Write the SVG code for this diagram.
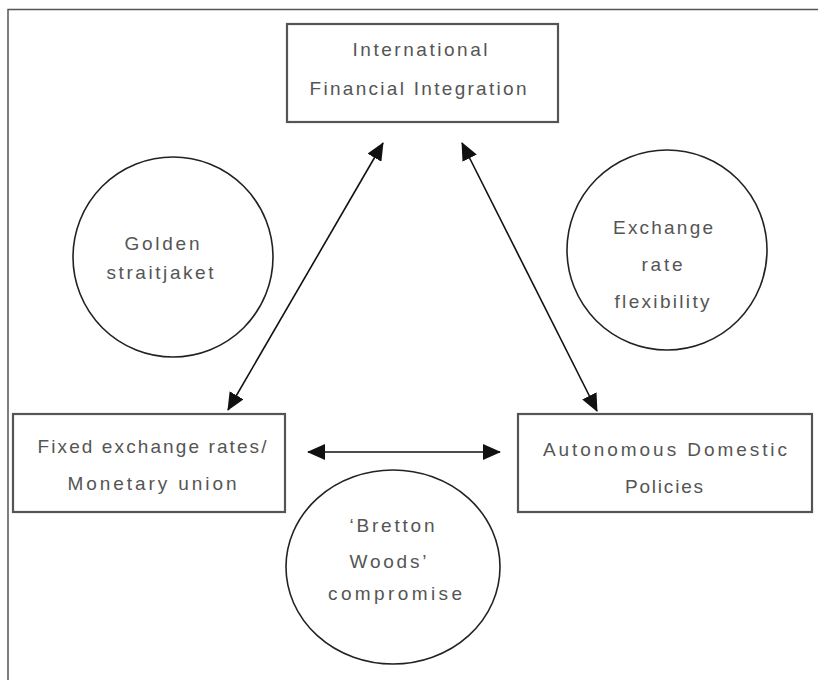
<svg xmlns="http://www.w3.org/2000/svg" width="818" height="680" viewBox="0 0 818 680">
<style>
.frame{stroke:#555;stroke-width:1.5;fill:none}
.box{fill:#fff;stroke:#555;stroke-width:2.2}
.circ{fill:#fff;stroke:#222;stroke-width:1.6}
.lbl{font-family:"Liberation Sans",Arial,sans-serif;font-size:19px;fill:#555;text-anchor:middle}
.conn{stroke:#111;stroke-width:1.6;fill:none;marker-start:url(#ah);marker-end:url(#ah)}
</style>
<defs>
<marker id="ah" markerUnits="userSpaceOnUse" markerWidth="18" markerHeight="16" refX="17" refY="8" orient="auto-start-reverse">
<path d="M0,0 L18,8 L0,16 z" fill="#111"/>
</marker>
</defs>
<rect width="818" height="680" fill="#fff"/>
<path class="frame" d="M8,680 L8,9.5 L818,9.5"/>

<g id="n-ifi">
<rect class="box" x="287" y="24" width="271" height="98"/>
<text class="lbl" x="420" y="56" textLength="135" lengthAdjust="spacing">International</text>
<text class="lbl" x="418" y="95" textLength="217" lengthAdjust="spacing">Financial Integration</text>
</g>

<g id="n-fixed">
<rect class="box" x="13" y="414" width="272" height="98"/>
<text class="lbl" x="152" y="453" textLength="229" lengthAdjust="spacing">Fixed exchange rates/</text>
<text class="lbl" x="152" y="490" textLength="169" lengthAdjust="spacing">Monetary union</text>
</g>

<g id="n-auto">
<rect class="box" x="518" y="414" width="294" height="98"/>
<text class="lbl" x="665" y="456" textLength="244" lengthAdjust="spacing">Autonomous Domestic</text>
<text class="lbl" x="664" y="493" textLength="78" lengthAdjust="spacing">Policies</text>
</g>

<g id="n-golden">
<circle class="circ" cx="173" cy="257" r="100"/>
<text class="lbl" x="162" y="250" textLength="75" lengthAdjust="spacing">Golden</text>
<text class="lbl" x="160" y="279" textLength="107" lengthAdjust="spacing">straitjaket</text>
</g>

<g id="n-flex">
<circle class="circ" cx="667" cy="250" r="100"/>
<text class="lbl" x="663" y="234" textLength="100" lengthAdjust="spacing">Exchange</text>
<text class="lbl" x="662" y="271" textLength="41" lengthAdjust="spacing">rate</text>
<text class="lbl" x="662" y="308" textLength="95" lengthAdjust="spacing">flexibility</text>
</g>

<g id="n-bretton">
<ellipse class="circ" cx="393" cy="567" rx="107" ry="97"/>
<text class="lbl" x="392" y="532" textLength="85" lengthAdjust="spacing">‘Bretton</text>
<text class="lbl" x="388" y="568" textLength="77" lengthAdjust="spacing">Woods’</text>
<text class="lbl" x="395" y="600" textLength="134" lengthAdjust="spacing">compromise</text>
</g>

<g id="connectors">
<line class="conn" x1="228" y1="410" x2="383" y2="143"/>
<line class="conn" x1="462" y1="143" x2="597" y2="411"/>
<line class="conn" x1="308" y1="452" x2="500" y2="452"/>
</g>
</svg>
